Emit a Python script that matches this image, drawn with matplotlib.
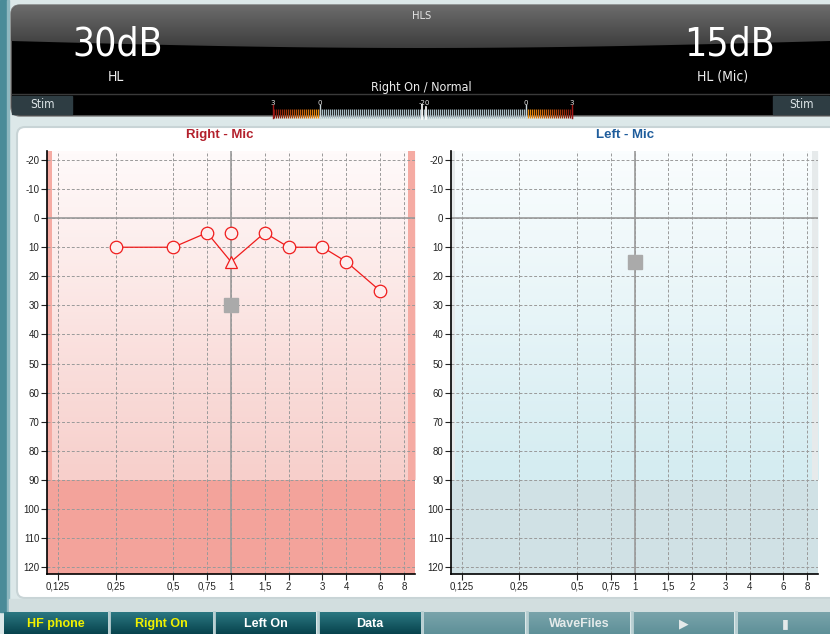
import numpy as np
import matplotlib
matplotlib.use('Agg')
import matplotlib.pyplot as plt
from matplotlib import font_manager
from matplotlib.patches import Rectangle, FancyBboxPatch, Polygon

# --- data ---
freqs = [0.125, 0.25, 0.5, 0.75, 1, 1.5, 2, 3, 4, 6, 8]
freq_labels = ['0,125', '0,25', '0,5', '0,75', '1', '1,5', '2', '3', '4', '6', '8']
db_ticks = list(range(-20, 130, 10))

right_line_freq = [0.25, 0.5, 0.75, 1, 1.5, 2, 3, 4, 6]
right_line_db = [10, 10, 5, 15, 5, 10, 10, 15, 25]
right_circle_freq = [0.25, 0.5, 0.75, 1, 1.5, 2, 3, 4, 6]
right_circle_db = [10, 10, 5, 5, 5, 10, 10, 15, 25]
right_tri_freq = [1]
right_tri_db = [15]
right_stim_freq, right_stim_db = [1], [30]
left_stim_freq, left_stim_db = [1], [15]

header_left = ['30dB', 'HL']
header_right = ['15dB', 'HL (Mic)']
header_mid = 'Right On / Normal'
meter_labels = ['3', '0', '-20', '0', '3']
buttons = ['HF phone', 'Right On', 'Left On', 'Data', '', 'WaveFiles', '\u25B6', '\u25AE']

W, H = 830, 634
SANS = ['Liberation Sans', 'DejaVu Sans']
plt.rcParams['axes.unicode_minus'] = False

# narrow font for the header, if one is around
narrow_file = None
for key in ['LiberationSansNarrow-Regular', 'DejaVuSansCondensed.ttf']:
    hits = [f.fname for f in font_manager.fontManager.ttflist if key in f.fname]
    if hits:
        narrow_file = hits[0]
        break


def hfont(size):
    if narrow_file:
        return font_manager.FontProperties(fname=narrow_file, size=size)
    return font_manager.FontProperties(family=SANS, size=size * 0.88)


def px_box(x0, y0, x1, y1):
    return [x0 / W, 1 - y1 / H, (x1 - x0) / W, (y1 - y0) / H]


def vgrad(c0, c1, n=100):
    a = np.array(matplotlib.colors.to_rgb(c0))
    b = np.array(matplotlib.colors.to_rgb(c1))
    t = np.linspace(0, 1, n)[:, None]
    return (a + (b - a) * t)[:, None, :]


fig = plt.figure(figsize=(W / 100, H / 100), dpi=100)
fig.patch.set_facecolor('#dce8e9')

bg = fig.add_axes([0, 0, 1, 1])
bg.set_xlim(0, W)
bg.set_ylim(H, 0)
bg.axis('off')
bg.set_autoscale_on(False)

# left teal edge
bg.add_patch(Rectangle((0, 0), 7, 612, color='#4a8b98', zorder=1))
bg.add_patch(Rectangle((7, 0), 2, 612, color='#8fb8c0', zorder=1))

# header
bg.add_patch(FancyBboxPatch((11, 5), 830, 111, boxstyle='round,pad=0,rounding_size=9',
                            fc='#000000', ec='#777777', lw=1, zorder=2))
xs = np.linspace(11, 830, 60)
curve = 41 + 7 * np.sin(np.pi * (xs - 11) / 819)
arc = [(11 + 9 - 9 * np.cos(a), 5 + 9 - 9 * np.sin(a)) for a in np.linspace(0, np.pi / 2, 8)]
pts = arc + [(830, 5)] + list(zip(xs[::-1], curve[::-1]))
gray = Polygon(pts, closed=True, fc='none', ec='none', zorder=3)
bg.add_patch(gray)
im = bg.imshow(vgrad('#6c6c6c', '#3a3a3a'), extent=[11, 830, 50, 5], aspect='auto', zorder=3)
im.set_clip_path(gray)
bg.plot([12, 830], [94, 94], color='#3a3a3a', lw=1, zorder=4)

bg.text(422, 19, 'HLS', color='#e6e6e6', fontproperties=hfont(8), ha='center', va='baseline', zorder=5)
bg.text(118, 56, header_left[0], color='white', fontproperties=hfont(28), ha='center', va='baseline', zorder=5)
bg.text(729, 56, header_right[0], color='white', fontproperties=hfont(28), ha='center', va='baseline', zorder=5)
bg.text(116, 81, header_left[1], color='#eeeeee', fontproperties=hfont(10), ha='center', va='baseline', zorder=5)
bg.text(723, 81, header_right[1], color='#eeeeee', fontproperties=hfont(10), ha='center', va='baseline', zorder=5)
bg.text(421, 91, header_mid, color='#eeeeee', fontproperties=hfont(9), ha='center', va='baseline', zorder=5)

for x0, x1 in [(12, 72), (773, 829)]:
    bg.add_patch(Rectangle((x0, 96), x1 - x0, 18, color='#2e3d43', zorder=4))
    bg.text((x0 + x1) / 2, 108, 'Stim', color='#dde5e8', fontproperties=hfont(8.5),
            ha='center', va='baseline', zorder=5)

# level meter
mx = np.arange(274, 573, 2.0)
cols = []
for x in mx:
    if x < 320:
        t = (x - 274) / 46
        cols.append((0.5 + 0.45 * t, 0.08 + 0.5 * t, 0.05))
    elif x > 526:
        t = (572 - x) / 46
        cols.append((0.5 + 0.45 * t, 0.08 + 0.5 * t, 0.05))
    else:
        cols.append('#a9bcc4')
bg.vlines(mx, 109, 118, colors=cols, lw=0.9, zorder=5)
for x, lab in zip([273, 320, 424, 526, 572], meter_labels):
    bg.text(x, 103, lab, color='#e8e8e8', fontsize=5, ha='center', va='center', zorder=5)
for x in [320, 526]:
    bg.plot([x, x], [105, 118], color='#c8d4d8', lw=1, zorder=6)
for x in [273, 572]:
    bg.plot([x, x], [105, 118], color='#a01818', lw=1, zorder=6)
bg.plot([422, 422], [105, 119], color='white', lw=1.2, zorder=6)
bg.plot([426, 426], [107, 119], color='white', lw=1.2, zorder=6)

# white panel
bg.add_patch(FancyBboxPatch((17, 127), 830, 471, boxstyle='round,pad=0,rounding_size=8',
                            fc='white', ec='#c8d4d6', lw=1.5, zorder=1))
bg.add_patch(Rectangle((9, 599), 830, 12, color='#d2dedf', zorder=1))

bg.text(220, 135, 'Right - Mic', color='#b3202c', fontsize=9.5, fontweight='bold', family=SANS,
        ha='center', va='center', zorder=5)
bg.text(625, 135, 'Left - Mic', color='#1f5d9c', fontsize=9.5, fontweight='bold', family=SANS,
        ha='center', va='center', zorder=5)

# buttons
btn_x = [(4, 107), (110, 212), (215, 316), (319, 420), (424, 525), (528, 630), (633, 734), (738, 832)]
for i, ((x0, x1), lab) in enumerate(zip(btn_x, buttons)):
    if i < 4:
        bg.imshow(vgrad('#2c7882', '#07434d'), extent=[x0, x1, 634, 612], aspect='auto', zorder=2)
        tc = '#f0f000' if i < 2 else 'white'
    else:
        bg.imshow(vgrad('#7aa4ab', '#5e9098'), extent=[x0, x1, 634, 612], aspect='auto', zorder=2)
        tc = '#e4eaea'
    bg.text((x0 + x1) / 2, 624, lab, color=tc, fontsize=9, fontweight='bold', family=SANS,
            ha='center', va='center', zorder=5)
    bg.plot([x1 + 1.5, x1 + 1.5], [612, 634], color='#b8cfd2', lw=2, zorder=3)
bg.set_xlim(0, W)
bg.set_ylim(H, 0)

# --- audiogram panels ---
x_lo = 0.125 * 2 ** (-11 / 58)
x_hi = 8 * 2 ** (11 / 58)
y_bot, y_top = 122.4, -23.1
f90 = (y_bot - 90) / (y_bot - y_top)


def chart(box, top_c, mid_c, low_c, strip_c, strip_r):
    ax = fig.add_axes(px_box(*box))
    ax.set_xscale('log')
    ax.set_xlim(x_lo, x_hi)
    ax.set_ylim(y_bot, y_top)
    ax.set_autoscale_on(False)
    ax.set_facecolor('white')
    ax.imshow(vgrad(top_c, mid_c), extent=[0, 1, f90, 1], transform=ax.transAxes,
              aspect='auto', zorder=0)
    ax.add_patch(Rectangle((0, 0), 1, f90, transform=ax.transAxes, color=low_c, zorder=0.5, lw=0))
    ax.add_patch(Rectangle((0, f90), strip_r[0], 1 - f90, transform=ax.transAxes,
                           color=strip_c, zorder=0.5, lw=0))
    ax.add_patch(Rectangle((strip_r[1], f90), 1 - strip_r[1], 1 - f90, transform=ax.transAxes,
                           color=strip_c, zorder=0.5, lw=0))
    ax.set_xticks(freqs)
    ax.set_xticklabels(freq_labels)
    ax.minorticks_off()
    ax.set_yticks(db_ticks)
    ax.grid(True, color='#9a9a9a', linestyle=(0, (3, 2)), lw=0.7)
    ax.axvline(1, color='#9a9a9a', lw=1.2, zorder=1)
    ax.axhline(0, color='#9a9a9a', lw=1.2, zorder=1)
    for s in ['top', 'right']:
        ax.spines[s].set_visible(False)
    for s in ['left', 'bottom']:
        ax.spines[s].set_linewidth(1.2)
    ax.tick_params(labelsize=7, length=4, width=0.8, pad=1.5, colors='#222222')
    for t in ax.get_xticklabels() + ax.get_yticklabels():
        t.set_family(SANS)
    return ax


axR = chart((47, 151, 415, 574), '#fffafa', '#f7cfcb', '#f3a39b', '#f5aba3', (0.014, 0.981))
axL = chart((451, 151, 818, 574), '#fafdfe', '#d4ecf1', '#d0e1e5', '#e6eaeb', (0.011, 0.984))

axR.plot(right_line_freq, right_line_db, color='#f01c1c', lw=0.9, zorder=3)
axR.plot(right_circle_freq, right_circle_db, 'o', ms=9, mfc='#fdeeee', mec='#f01c1c', mew=0.9, zorder=4)
axR.plot(right_tri_freq, right_tri_db, '^', ms=9, mfc='#fceaea', mec='#f01c1c', mew=0.9, zorder=4)
axR.plot(right_stim_freq, right_stim_db, 's', ms=9.5, color='#aaaaaa', zorder=4)
axL.plot(left_stim_freq, left_stim_db, 's', ms=9.5, color='#aaaaaa', zorder=4)

fig.savefig('out.png', dpi=100)
